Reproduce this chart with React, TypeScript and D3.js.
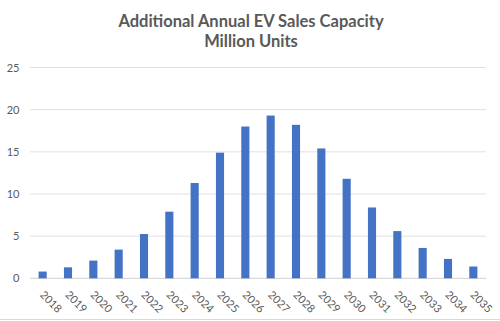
import React from "react";
import * as d3 from "d3";

const years = ["2018","2019","2020","2021","2022","2023","2024","2025","2026","2027","2028","2029","2030","2031","2032","2033","2034","2035"];
const sales = [0.8,1.3,2.1,3.4,5.25,7.9,11.3,14.9,18.0,19.3,18.2,15.4,11.8,8.4,5.6,3.6,2.3,1.4];
const yTicks = [0,5,10,15,20,25];
const titleLines = ["Additional Annual EV Sales Capacity","Million Units"];

const W = 500, H = 321;
const left = 30, right = 486, top = 67.5, bottom = 278.3;

export default function App() {
  const x = d3.scaleBand<string>().domain(years).range([left, right]).paddingInner(0.68).paddingOuter(0.34);
  const y = d3.scaleLinear().domain([0, 25]).range([bottom, top]);
  const font = "Lato, 'Open Sans', sans-serif";
  return (
    <svg width={W} height={H} style={{ position: "absolute", left: 0, top: 0, background: "#fff" }} fontFamily={font}>
      <rect x={0} y={0} width={W} height={H} fill="#fff" />
      {titleLines.map((t, i) => (
        <text key={t} x={251} y={27 + i * 20} textAnchor="middle" fontSize={16.5} fontWeight={700} fill="#595959">{t}</text>
      ))}
      {yTicks.map(t => (
        <g key={t}>
          <line x1={left} x2={right} y1={y(t)} y2={y(t)} stroke={t === 0 ? "#d0d0d0" : "#e0e0e0"} strokeWidth={1} />
          <text x={19.5} y={y(t) + 4} textAnchor="end" fontSize={11} fill="#595959">{t}</text>
        </g>
      ))}
      {years.map((yr, i) => (
        <rect key={yr} x={x(yr)} y={y(sales[i])} width={x.bandwidth()} height={bottom - y(sales[i])} fill="#4472c4" />
      ))}
      {years.map(yr => {
        const cx = (x(yr) as number) + x.bandwidth() / 2;
        const ax = cx - 3.5, ay = 295.5;
        return (
          <text key={yr} x={ax} y={ay} transform={`rotate(45 ${ax} ${ay})`} fontSize={11} fill="#595959">{yr}</text>
        );
      })}
      <line x1={0} x2={W} y1={319.5} y2={319.5} stroke="#d9d9d9" strokeWidth={1} />
    </svg>
  );
}
